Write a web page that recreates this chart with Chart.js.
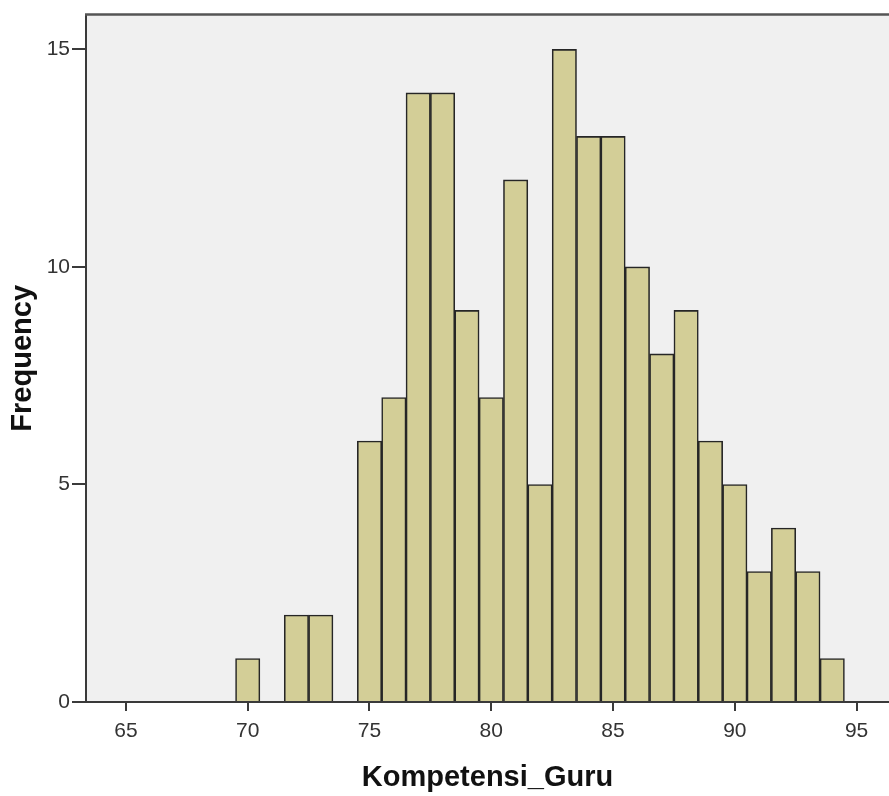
<!DOCTYPE html>
<html>
<head>
<meta charset="utf-8">
<script src="https://cdn.jsdelivr.net/npm/chart.js@4.4.0/dist/chart.umd.min.js"></script>
<style>
  html, body { margin: 0; padding: 0; background: #ffffff; }
  #wrap { width: 889px; height: 796px; position: relative; }
</style>
</head>
<body>
<div id="wrap"><canvas id="c" width="889" height="796"></canvas></div>
<script>
// Histogram of Kompetensi_Guru (bin centres and frequencies)
const binCenters = [70, 72, 73, 75, 76, 77, 78, 79, 80, 81, 82, 83, 84, 85, 86, 87, 88, 89, 90, 91, 92, 93, 94];
const frequencies = [1, 2, 2, 6, 7, 14, 14, 9, 7, 12, 5, 15, 13, 13, 10, 8, 9, 6, 5, 3, 4, 3, 1];
const xTickValues = [65, 70, 75, 80, 85, 90, 95];
const yTickValues = [0, 5, 10, 15];
const xTitle = 'Kompetensi_Guru';
const yTitle = 'Frequency';

const FONT = "'Liberation Sans', Arial, 'DejaVu Sans', sans-serif";

const plotBg = {
  id: 'plotBg',
  beforeDraw(chart) {
    const { ctx, chartArea: a } = chart;
    ctx.save();
    ctx.fillStyle = '#f0f0f0';
    ctx.fillRect(a.left, a.top, a.right - a.left, a.bottom - a.top);
    ctx.restore();
  },
  afterDraw(chart) {
    const { ctx, chartArea: a } = chart;
    ctx.save();
    ctx.strokeStyle = '#555555';
    ctx.lineWidth = 2.5;
    ctx.beginPath();
    ctx.moveTo(a.left - 1, a.top);
    ctx.lineTo(a.right, a.top);
    ctx.stroke();
    ctx.restore();
  }
};

new Chart(document.getElementById('c'), {
  type: 'bar',
  data: {
    datasets: [{
      data: binCenters.map((x, i) => ({ x: x, y: frequencies[i] })),
      backgroundColor: '#d3ce97',
      borderColor: '#262626',
      borderWidth: 1.6,
      barPercentage: 1,
      categoryPercentage: 1
    }]
  },
  options: {
    responsive: false,
    animation: false,
    devicePixelRatio: 1,
    layout: { padding: { top: 13, right: 0, bottom: 0, left: 0 } },
    plugins: { legend: { display: false }, tooltip: { enabled: false } },
    scales: {
      x: {
        type: 'linear',
        offset: false,
        min: 63.36,
        max: 96.33,
        afterBuildTicks(scale) { scale.ticks = xTickValues.map(v => ({ value: v })); },
        afterFit(scale) { scale.height = 94; },
        grid: { offset: false, drawOnChartArea: false, drawTicks: true, tickLength: 9, color: '#3a3a3a', lineWidth: 2 },
        border: { display: true, color: '#3a3a3a', width: 2 },
        ticks: { font: { family: FONT, size: 21 }, color: '#333333', padding: 8, maxRotation: 0 },
        title: { display: true, text: xTitle, color: '#111111', font: { family: FONT, size: 29, weight: 'bold' }, padding: { top: 0, bottom: 1 } }
      },
      y: {
        type: 'linear',
        min: 0,
        max: 15.8,
        afterBuildTicks(scale) { scale.ticks = yTickValues.map(v => ({ value: v })); },
        afterFit(scale) { scale.width = 86; },
        grid: { drawOnChartArea: false, drawTicks: true, tickLength: 14, color: '#3a3a3a', lineWidth: 2 },
        border: { display: true, color: '#3a3a3a', width: 2 },
        ticks: { font: { family: FONT, size: 21 }, color: '#333333', padding: 2 },
        title: { display: true, text: yTitle, color: '#111111', font: { family: FONT, size: 29, weight: 'bold' }, padding: { top: 6, bottom: 0 } }
      }
    }
  },
  plugins: [plotBg]
});
</script>
</body>
</html>
